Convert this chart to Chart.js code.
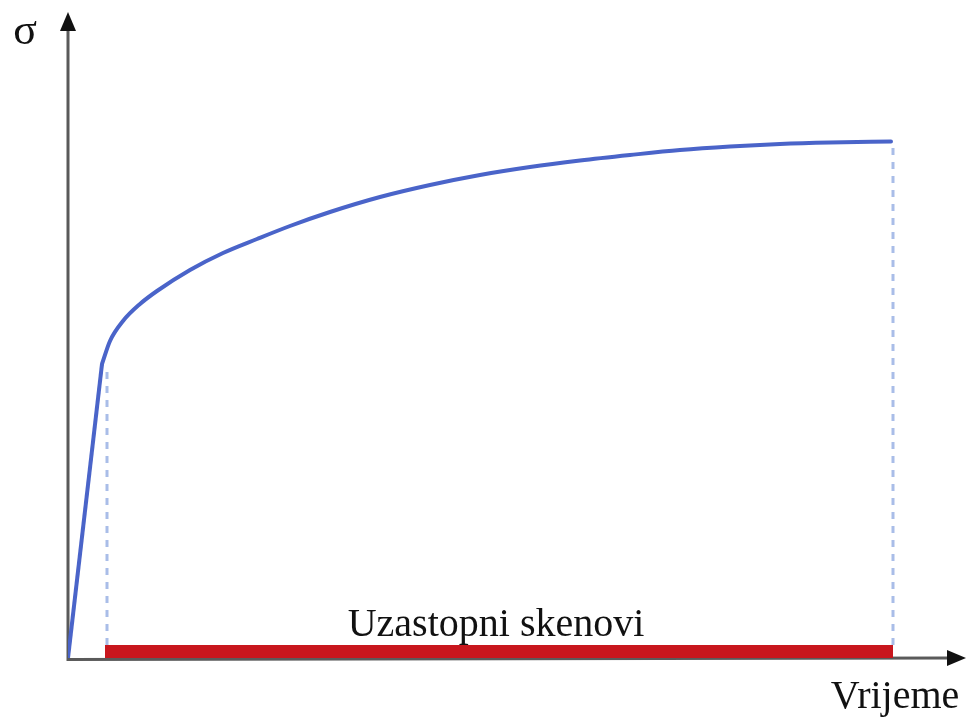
<!DOCTYPE html>
<html>
<head>
<meta charset="utf-8">
<script src="https://cdn.jsdelivr.net/npm/chart.js@4/dist/chart.umd.min.js"></script>
<style>
  html, body { margin: 0; padding: 0; background: #ffffff; }
  #wrap { width: 966px; height: 717px; position: relative; }
</style>
</head>
<body>
<div id="wrap"><canvas id="grafico"></canvas></div>
<script>
// elasticni dio (od ishodista do koljena)
const elasticX = [0, 34];
const elasticY = [0, 294];

// plasticni dio krivulje
const krivuljaX = [34, 42, 55, 72, 89, 122, 155, 189, 222, 262, 312, 362, 412, 462, 512, 562, 612, 662, 712, 762, 823];
const krivuljaY = [294, 317, 337, 354, 367, 388, 405, 419, 432, 446, 461, 473, 483, 491, 497.5, 503, 508, 511.5, 514, 515.5, 516.5];

// isprekidane okomite linije
const crtkanaLijevo = { x: [39, 39], y: [13, 288] };
const crtkanaDesno = { x: [825, 825], y: [13, 513] };

// crvena traka - uzastopni skenovi
const skenoviX = [37, 825];
const skenoviY = [3, 3];

const oznakaSkenova = 'Uzastopni skenovi';
const oznakaX = 'Vrijeme';
const oznakaY = 'σ';

const xMax = 898;
const yMax = 646;

function uTocke(xs, ys) {
  return xs.map((x, i) => ({ x, y: ys[i] }));
}

const plavaBoja = '#4a64c9';

const osiIOznake = {
  id: 'osiIOznake',
  beforeDatasetsDraw(chart) {
    const { ctx, scales } = chart;
    const x0 = scales.x.getPixelForValue(0);
    const y0 = scales.y.getPixelForValue(0);
    const xKraj = scales.x.getPixelForValue(xMax);
    const yKraj = scales.y.getPixelForValue(yMax);

    ctx.save();
    ctx.strokeStyle = '#5a5a5a';
    ctx.lineWidth = 3;
    ctx.beginPath();
    ctx.moveTo(x0, yKraj + 16);
    ctx.lineTo(x0, y0 + 1.5);
    ctx.lineTo(xKraj - 16, y0);
    ctx.stroke();

    ctx.fillStyle = '#111111';
    ctx.beginPath();
    ctx.moveTo(x0, yKraj);
    ctx.lineTo(x0 - 8, yKraj + 19);
    ctx.lineTo(x0 + 8, yKraj + 19);
    ctx.closePath();
    ctx.fill();

    ctx.beginPath();
    ctx.moveTo(xKraj, y0);
    ctx.lineTo(xKraj - 19, y0 - 8);
    ctx.lineTo(xKraj - 19, y0 + 8);
    ctx.closePath();
    ctx.fill();
    ctx.restore();
  },
  afterDatasetsDraw(chart) {
    const { ctx, scales } = chart;
    ctx.save();
    ctx.fillStyle = '#111111';
    ctx.textAlign = 'center';
    ctx.textBaseline = 'alphabetic';
    ctx.font = '40px "Liberation Serif", "DejaVu Serif", serif';
    ctx.fillText(oznakaSkenova, scales.x.getPixelForValue(428), scales.y.getPixelForValue(22));
    ctx.fillText(oznakaX, scales.x.getPixelForValue(827), scales.y.getPixelForValue(-50));
    ctx.font = '44px "Liberation Serif", "DejaVu Serif", serif';
    ctx.fillText(oznakaY, 25, scales.y.getPixelForValue(614));
    ctx.restore();
  },
};

const contexto = document.querySelector('#grafico');

new Chart(contexto, {
  type: 'scatter',
  data: {
    datasets: [
      {
        data: uTocke(crtkanaLijevo.x, crtkanaLijevo.y),
        showLine: true,
        borderColor: '#a9bde8',
        borderWidth: 3,
        borderDash: [7, 7],
        pointRadius: 0,
      },
      {
        data: uTocke(crtkanaDesno.x, crtkanaDesno.y),
        showLine: true,
        borderColor: '#a9bde8',
        borderWidth: 3,
        borderDash: [7, 7],
        pointRadius: 0,
      },
      {
        data: uTocke(elasticX, elasticY),
        showLine: true,
        borderColor: plavaBoja,
        borderWidth: 4,
        tension: 0,
        pointRadius: 0,
      },
      {
        data: uTocke(krivuljaX, krivuljaY),
        showLine: true,
        borderColor: plavaBoja,
        borderWidth: 4,
        cubicInterpolationMode: 'monotone',
        pointRadius: 0,
        borderCapStyle: 'round',
      },
      {
        data: uTocke(skenoviX, skenoviY),
        showLine: true,
        borderColor: '#c8161d',
        borderWidth: 20,
        borderCapStyle: 'butt',
        pointRadius: 0,
      },
    ],
  },
  options: {
    responsive: true,
    maintainAspectRatio: false,
    animation: false,
    layout: {
      padding: { left: 68, right: 0, top: 12, bottom: 59 },
    },
    scales: {
      x: { type: 'linear', min: 0, max: xMax, display: false },
      y: { type: 'linear', min: 0, max: yMax, display: false },
    },
    plugins: {
      legend: { display: false },
      tooltip: { enabled: false },
    },
  },
  plugins: [osiIOznake],
});
</script>
</body>
</html>
